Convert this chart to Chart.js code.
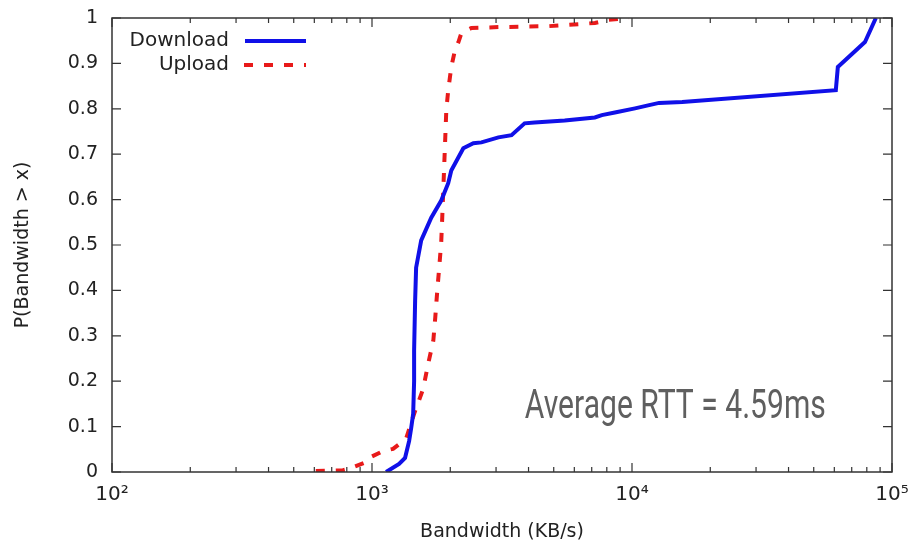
<!DOCTYPE html>
<html>
<head>
<meta charset="utf-8">
<script src="https://cdn.jsdelivr.net/npm/chart.js@4/dist/chart.umd.min.js"></script>
<style>
html,body{margin:0;padding:0;background:#fff;}
#wrap{width:912px;height:543px;position:relative;}
</style>
</head>
<body>
<div id="wrap"><canvas id="c" width="912" height="543"></canvas></div>
<script>
// ---- data ----
const downloadX = [1133,1271,1340,1389,1415,1440,1452,1452,1465,1478,1546,1690,1846,1964,2018,2245,2454,2636,3064,3440,3863,4220,5510,7196,7655,8594,10270,11640,12710,15600,60800,61900,78700,86700];
const downloadY = [0,0.018,0.031,0.068,0.097,0.128,0.2,0.267,0.377,0.45,0.51,0.56,0.598,0.636,0.664,0.713,0.724,0.726,0.737,0.742,0.768,0.770,0.774,0.781,0.786,0.792,0.801,0.808,0.813,0.815,0.841,0.892,0.947,1.0];
const uploadX = [608,773,815,931,973,1102,1205,1352,1452,1573,1644,1721,1751,1783,1816,1846,1863,1880,1897,1931,1964,2018,2074,2150,2208,2412,3064,4783,7196,8150,9730];
const uploadY = [0.002,0.004,0.007,0.02,0.031,0.046,0.051,0.073,0.128,0.183,0.238,0.289,0.34,0.4,0.455,0.506,0.561,0.62,0.68,0.797,0.841,0.892,0.923,0.947,0.967,0.978,0.98,0.982,0.989,0.996,1.0];
const xTickValues = [100,1000,10000,100000];
const xTickLabels = ['10\u00B2','10\u00B3','10\u2074','10\u2075'];
const yTickValues = [0,0.1,0.2,0.3,0.4,0.5,0.6,0.7,0.8,0.9,1];
const yTickLabels = ['0','0.1','0.2','0.3','0.4','0.5','0.6','0.7','0.8','0.9','1'];
const seriesNames = ['Download','Upload'];
const annotationText = 'Average RTT = 4.59ms';
const xTitle = 'Bandwidth (KB/s)';
const yTitle = 'P(Bandwidth > x)';

const BLUE = '#1010e8';
const RED = '#e81a1a';
const FRAME = '#333333';
const FONT = '"DejaVu Sans", sans-serif';

function pts(xs, ys){ return xs.map((x,i)=>({x:x,y:ys[i]})); }

const decorPlugin = {
  id:'decor',
  afterDatasetsDraw(chart){
    const ctx = chart.ctx, a = chart.chartArea;
    const xs = chart.scales.x, ys = chart.scales.y;
    ctx.save();
    // frame
    ctx.strokeStyle = FRAME; ctx.lineWidth = 1.5;
    ctx.strokeRect(a.left, a.top, a.right-a.left, a.bottom-a.top);
    // x ticks (major + minor) inward on bottom & top
    ctx.lineWidth = 1.2;
    ctx.beginPath();
    for (let d=0; d<xTickValues.length; d++){
      const base = xTickValues[d];
      for (let m=1; m<=9; m++){
        const v = base*m;
        if (v < xs.min || v > xs.max) continue;
        const px = xs.getPixelForValue(v);
        const len = (m===1)?9:5;
        ctx.moveTo(px, a.bottom); ctx.lineTo(px, a.bottom-len);
        ctx.moveTo(px, a.top); ctx.lineTo(px, a.top+len);
      }
    }
    // y ticks inward left & right
    yTickValues.forEach(v=>{
      const py = ys.getPixelForValue(v);
      ctx.moveTo(a.left, py); ctx.lineTo(a.left+9, py);
      ctx.moveTo(a.right, py); ctx.lineTo(a.right-9, py);
    });
    ctx.stroke();

    // legend
    ctx.font = '20px ' + FONT;
    ctx.fillStyle = '#222';
    ctx.textAlign = 'right'; ctx.textBaseline = 'middle';
    const lx = a.left + 117, ly = a.top + 23, gap = 24;
    ctx.fillText(seriesNames[0], lx, ly);
    ctx.fillText(seriesNames[1], lx, ly+gap);
    ctx.lineWidth = 4;
    ctx.strokeStyle = BLUE;
    ctx.beginPath(); ctx.moveTo(lx+16, ly); ctx.lineTo(lx+77, ly); ctx.stroke();
    ctx.strokeStyle = RED; ctx.setLineDash([9,11]);
    ctx.beginPath(); ctx.moveTo(lx+15, ly+gap); ctx.lineTo(lx+77, ly+gap); ctx.stroke();
    ctx.setLineDash([]);

    // annotation
    ctx.fillStyle = '#5f5f5f';
    ctx.font = '41px Roboto, "Open Sans", sans-serif';
    ctx.textAlign = 'left'; ctx.textBaseline = 'alphabetic';
    const w = ctx.measureText(annotationText).width;
    const target = 301;
    const sx = target / w;
    const ax = xs.getPixelForValue(3870), ay = ys.getPixelForValue(0.119);
    ctx.translate(ax, ay);
    ctx.scale(sx, 1);
    ctx.fillText(annotationText, 0, 0);
    ctx.restore();
  }
};

new Chart(document.getElementById('c'), {
  type:'line',
  data:{
    datasets:[
      {label:seriesNames[0], data:pts(downloadX,downloadY), borderColor:BLUE, borderWidth:4, pointRadius:0, tension:0, fill:false},
      {label:seriesNames[1], data:pts(uploadX,uploadY), borderColor:RED, borderWidth:4, borderDash:[9,11], pointRadius:0, tension:0, fill:false}
    ]
  },
  options:{
    responsive:false, animation:false,
    layout:{padding:{top:18, right:20, left:0, bottom:0}},
    plugins:{legend:{display:false}, tooltip:{enabled:false}},
    scales:{
      x:{
        type:'logarithmic', min:100, max:100000,
        afterBuildTicks(s){ s.ticks = xTickValues.map(v=>({value:v})); },
        afterFit(s){ s.height = 71; s.paddingLeft = 0; s.paddingRight = 0; },
        grid:{display:false, drawTicks:false},
        border:{display:false},
        ticks:{
          autoSkip:false, maxRotation:0, padding:11, color:'#222',
          font:{family:FONT, size:20},
          callback(v){ const i = xTickValues.indexOf(v); return i>=0 ? xTickLabels[i] : ''; }
        },
        title:{display:true, text:xTitle, color:'#222', font:{family:FONT, size:19}, padding:{top:0,bottom:0}}
      },
      y:{
        type:'linear', min:0, max:1,
        afterBuildTicks(s){ s.ticks = yTickValues.map(v=>({value:v})); },
        afterFit(s){ s.width = 112; s.paddingTop = 0; s.paddingBottom = 0; },
        grid:{display:false, drawTicks:false},
        border:{display:false},
        ticks:{
          autoSkip:false, padding:14, color:'#222',
          font:{family:FONT, size:19},
          callback(v){ const i = yTickValues.indexOf(v); return i>=0 ? yTickLabels[i] : ''; }
        },
        title:{display:true, text:yTitle, color:'#222', font:{family:FONT, size:19}, padding:{top:12,bottom:0}}
      }
    }
  },
  plugins:[decorPlugin]
});
</script>
</body>
</html>
